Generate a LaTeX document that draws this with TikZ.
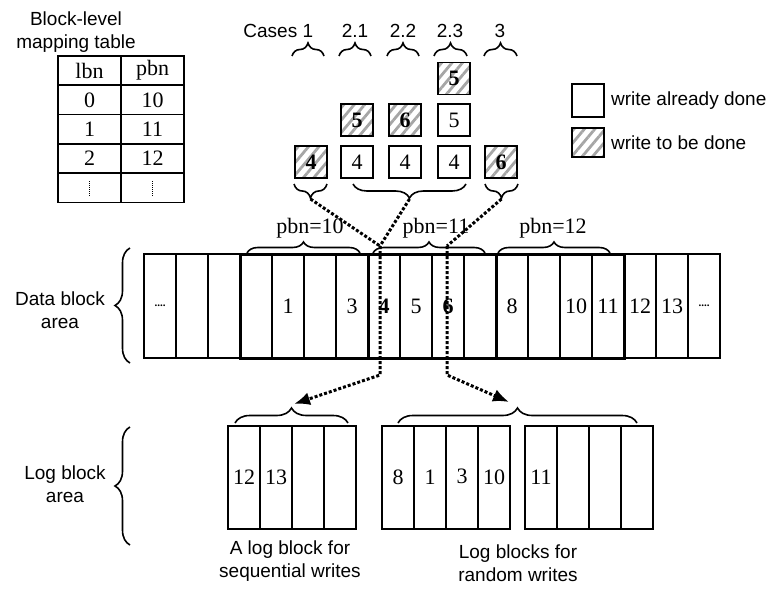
\documentclass[tikz,border=0pt]{standalone}
\usepackage{fontspec}
\setmainfont{Liberation Serif}
\setsansfont{Liberation Sans}
\usetikzlibrary{positioning}
\usetikzlibrary{decorations.pathreplacing}
\usetikzlibrary{patterns.meta}
\usetikzlibrary{arrows.meta}

\begin{document}
\begin{tikzpicture}[
                x=1pt, y=-1pt,
                cell/.style = {
                    draw,
                    line width = 1.6pt,
                    minimum width = 32pt,
                    minimum height = #1,
                    inner sep = 0pt,
                    outer sep = 0pt,
                    font = \fontsize{22}{24}\selectfont
                },
                cell/.default = 104pt,
                tcell/.style = {
                    draw,
                    line width = 1.8pt,
                    minimum width = 63pt,
                    minimum height = 29.3pt,
                    inner sep = 0pt,
                    outer sep = 0pt,
                    font = \fontsize{22}{24}\selectfont
                },
                wbox/.style = {
                    draw,
                    line width = 1.8pt,
                    minimum size = 32pt,
                    inner sep = 0pt,
                    font = \fontsize{22}{24}\selectfont
                },
                hbox/.style = {
                    wbox,
                    pattern = {Lines[angle=50, distance=8pt, line width=2.8pt]},
                    pattern color = gray!70,
                    font = \fontsize{22}{24}\selectfont\bfseries
                },
                txt/.style = {font=\fontsize{19}{23}\selectfont\sffamily, align=center, inner sep=0pt},
                num/.style = {font=\fontsize{22}{24}\selectfont, inner sep=0pt},
                brc/.style = {decorate, decoration={brace, amplitude=#1}, line width=1.6pt},
                brc/.default = 13pt,
                dotline/.style = {line width=3pt, dash pattern=on 3pt off 2pt},
                arr/.style = {-{Latex[length=16pt, width=13pt]}}
            ]
            \useasboundingbox (0,0) rectangle (772,589);
            % mapping table
            \node[txt] (ttl) at (76,32) {Block-level\\mapping table};
            \node[tcell] (lbn0) at (89.5,70.6) {lbn};
            \node[tcell, right=0pt of lbn0] (pbn0) {pbn};
            \node[tcell, below=0pt of lbn0] (lbn1) {0};
            \node[tcell, right=0pt of lbn1] (pbn1) {10};
            \node[tcell, below=0pt of lbn1] (lbn2) {1};
            \node[tcell, right=0pt of lbn2] (pbn2) {11};
            \node[tcell, below=0pt of lbn2] (lbn3) {2};
            \node[tcell, right=0pt of lbn3] (pbn3) {12};
            \node[tcell, below=0pt of lbn3] (lbn4) {};
            \node[tcell, right=0pt of lbn4] (pbn4) {};
            \draw[line width=1.2pt, dash pattern=on 1pt off 1pt] ([yshift=-8pt]lbn4.center) -- ([yshift=8pt]lbn4.center);
            \draw[line width=1.2pt, dash pattern=on 1pt off 1pt] ([yshift=-8pt]pbn4.center) -- ([yshift=8pt]pbn4.center);
            % 
            % cases
            \node[txt] (k1) at (308,31) {1};
            \node[txt, left=5pt of k1] (kc) {Cases};
            \node[txt] (k21) at (355,31) {2.1};
            \node[txt] (k22) at (403,31) {2.2};
            \node[txt] (k23) at (450,31) {2.3};
            \node[txt] (k3) at (500,31) {3};
            \draw[brc] (292,56) -- (324,56);
            \draw[brc] (339,56) -- (371,56);
            \draw[brc] (387,56) -- (419,56);
            \draw[brc] (434,56) -- (467,56);
            \draw[brc] (484,56) -- (517,56);
            % 
            \node[hbox] (c1a) at (311,162) {4};
            \node[wbox] (c21a) at (357,162) {4};
            \node[hbox, above=8pt of c21a] (c21b) {5};
            \node[wbox] (c22a) at (405,162) {4};
            \node[hbox, above=8pt of c22a] (c22b) {6};
            \node[wbox] (c23a) at (454,162) {4};
            \node[wbox, above=8pt of c23a] (c23b) {5};
            \node[hbox, above=8pt of c23b] (c23c) {5};
            \node[hbox] (c3a) at (501,162) {6};
            % 
            \draw[brc=14pt] (327,184) -- (294,184);
            \draw[brc=14pt] (466,184) -- (353,184);
            \draw[brc=14pt] (518,184) -- (485,184);
            \coordinate (t1) at (310.5,199);
            \coordinate (t2) at (409.5,199);
            \coordinate (t3) at (501.5,199);
            % 
            % legend
            \node[wbox, minimum height=33pt] (lg1) at (588,100.5) {};
            \node[hbox, minimum height=29pt] (lg2) at (588,142.5) {};
            \node[txt, right=6pt of lg1] (lgt1) {write already done};
            \node[txt, right=6pt of lg2] (lgt2) {write to be done};
            % 
            % data block area
            \node[txt] (dba) at (60,310) {Data block\\area};
            \draw[brc=15pt] (130,363) -- (130,248);
            \node[cell] (d1) at (160,306) {\fontsize{11}{11}\selectfont\bfseries ....};
            \node[cell, right=0pt of d1] (d2) {};
            \node[cell, right=0pt of d2] (d3) {};
            \node[cell, right=0pt of d3] (d4) {};
            \node[cell, right=0pt of d4] (d5) {1};
            \node[cell, right=0pt of d5] (d6) {};
            \node[cell, right=0pt of d6] (d7) {3};
            \node[cell, right=0pt of d7] (d8) {\textbf{4}};
            \node[cell, right=0pt of d8] (d9) {5};
            \node[cell, right=0pt of d9] (d10) {\textbf{6}};
            \node[cell, right=0pt of d10] (d11) {};
            \node[cell, right=0pt of d11] (d12) {8};
            \node[cell, right=0pt of d12] (d13) {};
            \node[cell, right=0pt of d13] (d14) {10};
            \node[cell, right=0pt of d14] (d15) {11};
            \node[cell, right=0pt of d15] (d16) {12};
            \node[cell, right=0pt of d16] (d17) {13};
            \node[cell, right=0pt of d17] (d18) {\fontsize{11}{11}\selectfont\bfseries ....};
            \draw[line width=3pt] (d4.north west) rectangle (d7.south east);
            \draw[line width=3pt] (d8.north west) rectangle (d11.south east);
            \draw[line width=3pt] (d12.north west) rectangle (d15.south east);
            % 
            \draw[brc=11pt] (247,253) -- (360,253);
            \draw[brc=11pt] (373,253) -- (485,253);
            \draw[brc=11pt] (498,253) -- (610,253);
            \node[num] (p10) at (310,228) {pbn=10};
            \node[num] (p11) at (436,228) {pbn=11};
            \node[num] (p12) at (553,228) {pbn=12};
            % 
            % log block area
            \node[txt] (lba) at (65,484) {Log block\\area};
            \draw[brc=15pt] (130,545) -- (130,427);
            \node[cell=103pt] (l1) at (244,477.5) {12};
            \node[cell=103pt, right=0pt of l1] (l2) {13};
            \node[cell=103pt, right=0pt of l2] (l3) {};
            \node[cell=103pt, right=0pt of l3] (l4) {};
            \node[cell=103pt] (r1) at (398,477.5) {8};
            \node[cell=103pt, right=0pt of r1] (r2) {1};
            \node[cell=103pt, right=0pt of r2] (r3) {\raisebox{3pt}{3}};
            \node[cell=103pt, right=0pt of r3] (r4) {10};
            \node[cell=103pt] (q1) at (541,477.5) {11};
            \node[cell=103pt, right=0pt of q1] (q2) {};
            \node[cell=103pt, right=0pt of q2] (q3) {};
            \node[cell=103pt, right=0pt of q3] (q4) {};
            \draw[brc=15pt] (235,423) -- (348,423);
            \draw[brc=15pt] (398,423) -- (637,423);
            \node[txt] (cap1) at (290,561) {A log block for\\sequential writes};
            \node[txt] (cap2) at (518,563) {Log blocks for\\random writes};
            % 
            % dotted paths
            \coordinate (j4) at (380,246);
            \coordinate (k4) at (380,375);
            \coordinate (sq) at (294,404);
            \coordinate (j6) at (447,246);
            \coordinate (k6) at (447,375);
            \coordinate (rq) at (509,402);
            \draw[dotline] (t1) -- (j4);
            \draw[dotline] (t2) -- (j4);
            \draw[dotline, arr] (j4) -- (k4) -- (sq);
            \draw[dotline] (t3) -- (j6);
            \draw[dotline, arr] (j6) -- (k6) -- (rq);
            % 
        \end{tikzpicture}
\end{document}
